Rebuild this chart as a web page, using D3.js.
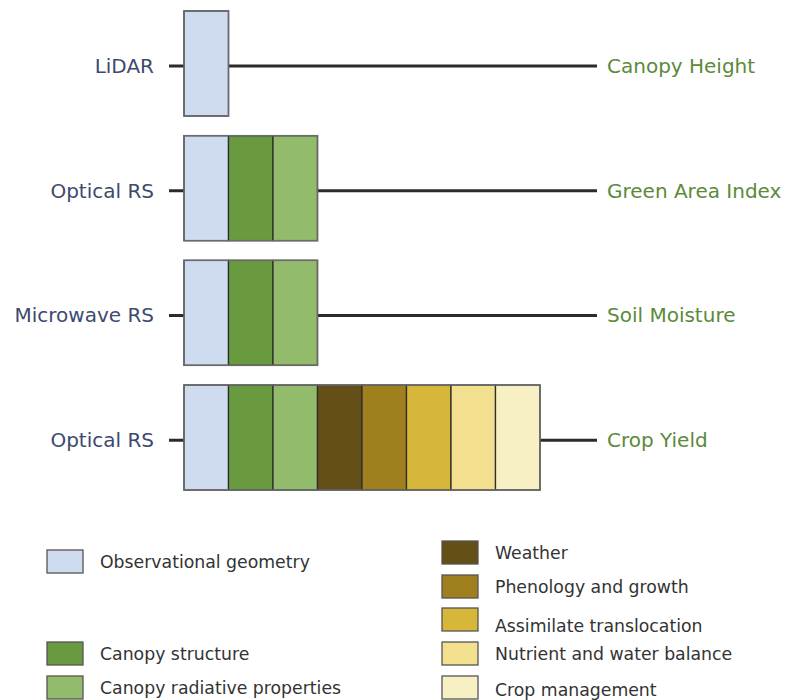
<!DOCTYPE html>
<html>
<head>
<meta charset="utf-8">
<script src="https://cdn.jsdelivr.net/npm/d3@7"></script>
<style>
  body { margin: 0; background: #fff; }
  svg text { font-family: "DejaVu Sans", sans-serif; }
</style>
</head>
<body>
<div id="chart"></div>
<script>
// sensors (left), what they estimate (right), and how many factors each row covers
let sensors = ["LiDAR", "Optical RS", "Microwave RS", "Optical RS"]
let targets = ["Canopy Height", "Green Area Index", "Soil Moisture", "Crop Yield"]
let factorCounts = [1, 3, 3, 8]

let factors = ["Observational geometry", "Canopy structure", "Canopy radiative properties",
    "Weather", "Phenology and growth", "Assimilate translocation",
    "Nutrient and water balance", "Crop management"]
let factorColors = ["#cfdcf0", "#6a9a40", "#93bb6c", "#634f17", "#a07f1f",
    "#d6b73a", "#f2e08e", "#f7f0c5"]

let leftLegend = [0, 1, 2]
let rightLegend = [3, 4, 5, 6, 7]

let W = 785, H = 700

let svg = d3.select('#chart').append('svg')
    .attr('width', W)
    .attr('height', H)

let y = d3.scaleBand()
    .domain(d3.range(sensors.length))
    .range([11, 490])
    .paddingInner(0.158)
    .paddingOuter(0)

let x = d3.scaleBand()
    .domain(d3.range(factors.length))
    .range([184, 540])

let lineEndX = 597
let labelGap = 15
let midY = y.bandwidth() * 0.525   // connector sits a touch below centre

let rows = svg.selectAll('g.row')
    .data(sensors)
    .join('g')
    .attr('class', 'row')
    .attr('transform', (d, i) => `translate(0,${y(i)})`)

// connecting line behind boxes
rows.append('line')
    .attr('x1', 169)
    .attr('x2', lineEndX)
    .attr('y1', midY)
    .attr('y2', midY)
    .attr('stroke', '#2b2b2b')
    .attr('stroke-width', 3)

rows.each(function (d, i) {
    let g = d3.select(this)
    let n = factorCounts[i]
    g.selectAll('rect.cell')
        .data(d3.range(n))
        .join('rect')
        .attr('class', 'cell')
        .attr('x', k => x(k))
        .attr('y', 0)
        .attr('width', x.bandwidth())
        .attr('height', y.bandwidth())
        .attr('fill', k => factorColors[k])
        .attr('stroke', '#2e2e2e')
        .attr('stroke-width', 1.3)
    // gray outer frame
    g.append('rect')
        .attr('x', x(0))
        .attr('y', 0)
        .attr('width', x(n - 1) + x.bandwidth() - x(0))
        .attr('height', y.bandwidth())
        .attr('fill', 'none')
        .attr('stroke', '#6b6b6b')
        .attr('stroke-width', 1.5)
})

rows.append('text')
    .attr('x', 169 - labelGap)
    .attr('y', midY)
    .attr('dy', '0.35em')
    .attr('text-anchor', 'end')
    .attr('fill', '#3d4a6e')
    .style('font-size', '20px')
    .text(d => d)

rows.append('text')
    .attr('x', lineEndX + 10)
    .attr('y', midY)
    .attr('dy', '0.35em')
    .attr('fill', '#5b8a3a')
    .style('font-size', '20px')
    .text((d, i) => targets[i])

// legend
let leftLegendY = [550, 642, 676]
let rightLegendY = [541, 575, 608, 642, 676]
let rightTextOffset = [0, 0, 6, 0, 2]

function legend(idx, ys, x0, textOffsets) {
    let g = svg.append('g')
    let items = g.selectAll('g')
        .data(idx)
        .join('g')
        .attr('transform', (d, i) => `translate(${x0},${ys[i]})`)
    items.append('rect')
        .attr('width', 36)
        .attr('height', 23)
        .attr('fill', d => factorColors[d])
        .attr('stroke', '#555')
        .attr('stroke-width', 1.3)
    items.append('text')
        .attr('x', 53)
        .attr('y', (d, i) => 12 + (textOffsets ? textOffsets[i] : 0))
        .attr('dy', '0.35em')
        .attr('fill', '#333')
        .style('font-size', '17.3px')
        .text(d => factors[d])
}
legend(leftLegend, leftLegendY, 47)
legend(rightLegend, rightLegendY, 442, rightTextOffset)
</script>
</body>
</html>
